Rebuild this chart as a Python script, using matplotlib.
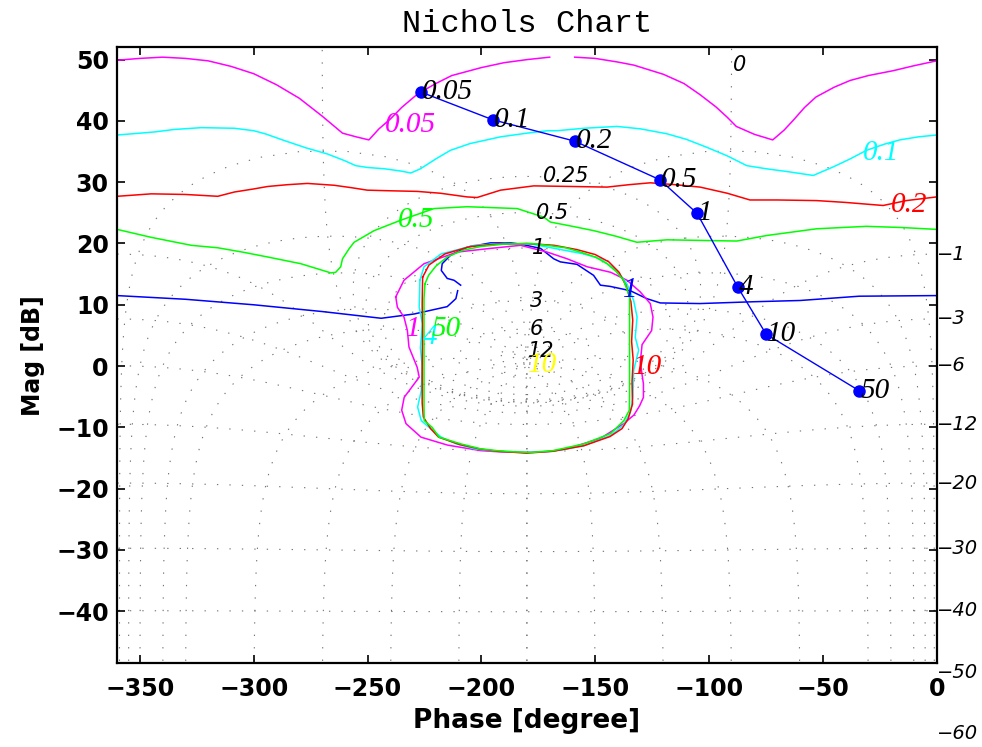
import numpy as np
import matplotlib
matplotlib.use('Agg')
import matplotlib.pyplot as plt

nan = np.nan

# open-loop response at the design frequencies [rad/s]
w_labels = ['0.05', '0.1', '0.2', '0.5', '1', '4', '10', '50']
loop_phase = [-226.5, -195.1, -159.0, -121.6, -105.2, -87.4, -74.9, -34.1]
loop_mag = [44.7, 40.2, 36.7, 30.4, 24.9, 12.9, 5.2, -4.0]

# QFT bounds, upper (open) curves
b005_phase = [-360, -350, -340, -330, -320, -310, -300, -290, -280, -270, -261, -255, -249.4,
              -245, -240, -235, -228, -220, -213, -200, -190, -180, -170, nan,
              -159, -150, -140, -133, -120, -111, -104, -97, -92, -88, -80, -72,
              -67, -63, -58, -53, -45, -38, -30, -19, -10, 0]
b005_mag = [49.9, 50.2, 50.4, 50.2, 49.8, 48.9, 47.7, 45.9, 43.7, 40.8, 38.0, 37.4, 36.9,
            38.7, 40.3, 42.2, 44.4, 46.1, 47.4, 48.7, 49.5, 50.0, 50.4, nan,
            50.4, 50.2, 49.6, 49.1, 47.6, 46.1, 44.3, 42.3, 40.6, 39.1, 37.8, 36.9,
            38.5, 40.1, 42.2, 43.9, 45.5, 46.6, 47.4, 48.2, 49.0, 49.8]

b01_phase = [-360, -350, -343.6, -335, -323, -308.5, -300, -295, -286.6, -277, -267.6, -260,
             -255.2, -250, -242.8, -235, -231, -226.7, -220, -213.6, -205, -191.6, -180,
             -171, -166.7, -155, -140.4, -130, -118.5, -110, -101, -92, -83.4, -75, -65,
             -54.2, -45.4, -38, -30.8, -23, -16.2, -8, 0]
b01_mag = [37.7, 38.0, 38.2, 38.6, 38.9, 38.8, 38.4, 37.9, 36.8, 35.6, 34.6, 33.5,
           32.7, 32.4, 32.2, 31.8, 31.5, 32.2, 33.8, 35.2, 36.3, 37.4, 38.0,
           38.4, 38.4, 38.8, 39.1, 38.7, 37.9, 37.0, 35.7, 34.3, 32.7, 32.2, 31.7,
           31.1, 32.5, 33.8, 35.2, 36.2, 36.9, 37.4, 37.7]

b02_phase = [-360, -345, -330, -315.8, -308.5, -300, -293.9, -285, -276.4, -264.7, -257,
             -250.1, -240, -228.2, -218, -206.3, -201.9, -191.6, -177, -160, -144.8, -135,
             -125.8, -115, -103.9, -92, -82, -70, -52.7, -40, -23.5, -13.3, 0]
b02_mag = [27.7, 28.1, 28.0, 27.7, 28.4, 28.9, 29.3, 29.6, 29.8, 29.5, 29.1,
           28.7, 28.6, 28.5, 28.2, 27.6, 27.5, 28.7, 29.4, 29.3, 29.2, 29.6,
           29.9, 29.6, 29.2, 28.2, 27.1, 27.1, 27.0, 26.7, 26.2, 27.0, 27.6]

b05_phase = [-360, -345, -327.4, -315.8, -305, -293.9, -279.3, -266.1, -264, -261.8, -261,
             -258, -255.9, -247.1, -235.4, -220.8, -206.2, -191.6, -184.3, -172.6, -169.7,
             -160, -150.7, -141, -131.7, -118.5, -87.8, -74.7, -52.7, -30.8, -15, 0]
b05_mag = [22.3, 21.0, 19.7, 19.3, 18.6, 17.8, 16.7, 15.2, 15.3, 16.2, 17.5,
           19.2, 20.2, 22.1, 23.8, 25.7, 26.0, 25.8, 25.7, 24.3, 23.5,
           22.8, 22.1, 21.2, 20.2, 20.6, 20.4, 21.3, 22.4, 22.8, 22.6, 22.3]

b1_phase = [-360, -330, -300, -270, -244, -229.5, -215, -211.2, -210.4, nan,
            -209.1, -212, -215, -217.6, -217.2, -213.5, -206.2, -196, -187, -182.8, -174,
            -168.2, -165.3, -158, -150.7, -147.7, -143.4, -134.6, -127.3, -121.4, -104,
            -80, -60, -34, 0]
b1_mag = [11.5, 10.9, 10.0, 8.9, 7.8, 8.5, 9.7, 11.0, 12.3, nan,
          13.2, 14.0, 14.3, 15.6, 16.7, 18.1, 19.4, 20.1, 20.1, 19.9, 19.2,
          17.5, 17.0, 16.6, 14.8, 13.2, 13.0, 12.3, 11.0, 10.3, 10.2,
          10.5, 10.7, 11.4, 11.5]

# QFT bounds, closed curves around the critical point
c1_phase = [-237.6, -234.0, -225.2, -210.6, -196, -182.8, -171.1, -162.3, -153.5, -143.2,
            -136, -130.2, -125.8, -124.6, -125.2, -129.4, -130.2, -128.8, -128.8, -130.5,
            -133, -137.5, -147.7, -162.3, -169.6, -180, -191.5, -200.2, -214.8, -226.5,
            -233.1, -235.0, -233.9, -229.5, -227.3, -228.2, -231.8, -232.5, -234.0, -236.9,
            -237.6]
c1_mag = [11.3, 14.0, 16.7, 18.6, 19.2, 19.7, 18.6, 17.5, 16.2, 15.3,
          14.0, 12.1, 10.2, 8.0, 5.8, 3.5, 0.6, -2.9, -5.1, -6.5,
          -8.0, -9.4, -11.8, -13.5, -13.9, -14.1, -14.0, -13.8, -12.9, -11.6,
          -9.4, -7.2, -5.1, -2.9, -1.8, -0.2, 3.1, 5.8, 8.0, 9.6,
          11.3]

c4_phase = [-227.0, -225.2, -217.7, -203.1, -190, -178, -165, -155, -147.7, -140.4, -136,
            -133.1, -131.6, -132.4, -130.9, -133.1, -133.4, -134.5, -137.5, -143.2, -155,
            -168.6, -180, -193, -203, -211, -217.6, -223, -226.4, -228.0, -226.4, -226.0,
            -226.8, -225.9, -227.3, -227.0]
c4_mag = [14.0, 16.2, 18.3, 19.7, 20.0, 19.9, 19.0, 18.3, 17.5, 15.6, 13.4,
          10.7, 8.0, 4.7, 2.6, -0.7, -5.1, -7.5, -9.6, -11.3, -13.0,
          -13.9, -14.1, -13.9, -13.5, -12.7, -11.6, -10.0, -8.9, -6.7, -4.0, 0,
          3.0, 6.9, 9.6, 14.0]

c10_phase = [-225.8, -223, -216, -205, -193, -180, -168, -158, -150, -144, -139.5, -136.3,
             -134.3, -133.5, -134.0, -133.3, -133.8, -133.6, -135.5, -138.2, -143.5, -155,
             -168.6, -180, -193, -201, -209.5, -218.8, -222.3, -225.5, -226.0, -226.0,
             -225.8, -226.0, -225.8]
c10_mag = [14.5, 16.5, 18.3, 19.5, 19.9, 20.0, 19.7, 19.0, 18.2, 17.0, 15.3, 13.0,
           10.5, 7.5, 4.0, 1.0, -2.5, -6.2, -8.6, -10.2, -11.5, -13.0,
           -13.9, -14.2, -13.9, -13.5, -12.8, -11.6, -10.2, -8.3, -6.0, 0,
           6.0, 10.0, 14.5]

c50_phase = [-224.8, -223.2, -220, -215, -208, -200.3, -190, -178, -171.1, -163, -156.5,
             -150, -144.8, -141, -137.5, -134.9, -134.9, -134.9, -134.9, -135.0, -137.4,
             -143.2, -155, -168.6, -178, -185, -193, -200.3, -209, -218.6, -221.6, -225.1,
             -225.2, -225.2, -225.2, -224.8]
c50_mag = [13.4, 14.8, 16.3, 17.8, 18.9, 19.5, 19.9, 20.0, 19.7, 19.3, 18.6,
           17.8, 16.7, 15.5, 14.0, 11.3, 5, 0, -5, -7.2, -8.9,
           -11.0, -12.7, -13.8, -14.1, -14.0, -13.8, -13.5, -12.7, -11.6, -10.0, -8.9,
           -6.7, 0, 11, 13.4]

# bound labels: text, colour, phase, magnitude
bound_text = ['0.05', '0.1', '0.2', '0.5', '1', '1', '4', '50', '10', '10']
bound_color = ['#ff00ff', '#00ffff', '#ff0000', '#00ff00', '#0000ff',
               '#ff00ff', '#00ffff', '#00ff00', '#ffff00', '#ff0000']
bound_tx = [-231.0, -24.5, -12.3, -228.7, -134.6, -230.0, -222.3, -215.5, -173.0, -126.8]
bound_ty = [39.4, 34.8, 26.2, 23.8, 12.4, 6.1, 4.8, 6.1, 0.1, -0.2]

# Nichols grid levels
m_levels = [12, 6, 3, 1, 0.5, 0.25, 0, -1, -3, -6, -12, -20, -30, -40, -50, -60]
p_levels = [-1, -5, -10, -20, -30, -60, -90, -120, -150, -180]


def unwrap_neg(L):
    ph = np.degrees(np.angle(L))
    return np.where(ph > 0, ph - 360, ph)


def nichols_grid(ax):
    kw = dict(color='0.45', lw=0.8, ls=(0, (1.2, 10)), zorder=1)
    for mdb in m_levels:
        m = 10 ** (mdb / 20.0)
        if mdb == 0:
            y = np.concatenate([-np.logspace(3, -4, 600), np.logspace(-4, 3, 600)])
            L = -0.5 + 1j * y
        else:
            c = m ** 2 / (1 - m ** 2)
            r = abs(m / (1 - m ** 2))
            th = np.linspace(0, 2 * np.pi, 3000)
            L = c + r * np.exp(1j * th)
        ph = unwrap_neg(L)
        mag = 20 * np.log10(np.abs(L))
        if m < 1:
            idx = np.argsort(ph)
            ph, mag = ph[idx], mag[idx]
        ax.plot(ph, mag, **kw)
    M = np.logspace(-4, 4, 3000)
    for p in p_levels:
        T = M * np.exp(1j * np.radians(p))
        L = T / (1 - T)
        ph = unwrap_neg(L)
        mag = 20 * np.log10(np.abs(L))
        ax.plot(ph, mag, **kw)
        ax.plot(-360 - ph, mag, **kw)

    lab = dict(fontsize=15, style='italic', color='black', zorder=3)
    # closed contour labels above the critical point
    inner = [0.25, 0.5, 1, 3, 6, 12]
    inner_x = [-162.6, -168.8, -174.7, -175.8, -176.0, -173.6]
    for mdb, x in zip(inner, inner_x):
        m = 10 ** (mdb / 20.0)
        ax.text(x, 20 * np.log10(m / (m - 1)), f'{mdb:g}', ha='center', va='center', **lab)
    ax.text(-86.6, 49.1, '0', ha='center', va='center', **lab)
    # open contour labels at the right edge
    for mdb in [-1, -3, -6, -12, -20, -30, -40, -50, -60]:
        m = 10 ** (mdb / 20.0)
        ax.text(0.3, 20 * np.log10(m / (1 - m)), f'{mdb:g}'.replace('-', '\u2212'),
                ha='left', va='center', clip_on=False, fontsize=14, style='italic')


plt.rcParams['font.family'] = ['DejaVu Sans']
fig = plt.figure(figsize=(9.82, 7.47), dpi=100)
ax = fig.add_axes([0.1193, 0.1120, 0.8345, 0.8246])

nichols_grid(ax)

lw = 1.1
ax.plot(b005_phase, b005_mag, color='#ff00ff', lw=lw, zorder=2)
ax.plot(b01_phase, b01_mag, color='#00ffff', lw=lw, zorder=2)
ax.plot(b02_phase, b02_mag, color='#ff0000', lw=lw, zorder=2)
ax.plot(b05_phase, b05_mag, color='#00ff00', lw=lw, zorder=2)
ax.plot(b1_phase, b1_mag, color='#0000ff', lw=lw, zorder=2)
ax.plot(c1_phase, c1_mag, color='#ff00ff', lw=lw, zorder=2)
ax.plot(c4_phase, c4_mag, color='#00ffff', lw=lw, zorder=2)
ax.plot(c10_phase, c10_mag, color='#ff0000', lw=lw, zorder=2)
ax.plot(c50_phase, c50_mag, color='#00ff00', lw=lw, zorder=2)

for t, c, x, y in zip(bound_text, bound_color, bound_tx, bound_ty):
    ax.text(x, y, t, color=c, ha='center', va='center', fontsize=21,
            family='Liberation Serif', style='italic', zorder=4)

ax.plot(loop_phase, loop_mag, color='#0000ff', lw=1.0, marker='o', markersize=8,
        zorder=5)
for t, x, y in zip(w_labels, loop_phase, loop_mag):
    ax.text(x + 0.5, y, t, ha='left', va='center', fontsize=21,
            family='Liberation Serif', style='italic', zorder=6)

ax.set_xlim(-360, 0)
ax.set_ylim(-48.5, 52)
ax.set_xticks(np.arange(-350, 1, 50))
ax.set_yticks(np.arange(-40, 51, 10))
ax.tick_params(direction='in', length=6, width=1.2, top=True, right=True,
               labelsize=17)
ax.tick_params(axis='x', pad=10)
ax.tick_params(axis='y', pad=6)
for lbl in ax.get_xticklabels() + ax.get_yticklabels():
    lbl.set_fontweight('bold')
for s in ax.spines.values():
    s.set_linewidth(1.6)

ax.set_xlabel('Phase [degree]', fontsize=19, fontweight='bold', labelpad=5)
ax.set_ylabel('Mag [dB]', fontsize=17, fontweight='bold', labelpad=8)
ax.set_title('Nichols Chart', family='Liberation Mono', fontsize=23, pad=11)

fig.savefig('out.png', dpi=100)
